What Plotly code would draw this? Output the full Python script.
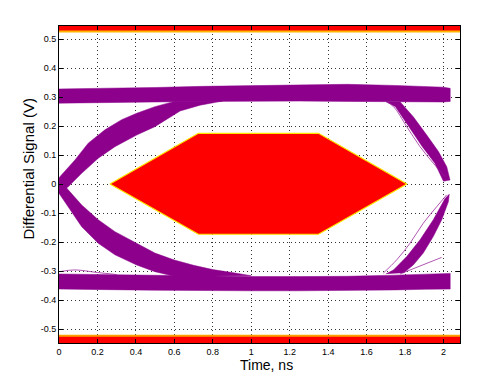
import plotly.graph_objects as go

PURPLE = "rgb(140,0,140)"
PURPLE_THIN = "rgba(150,30,150,0.75)"

# ---------------- data ----------------
x_ticks = [0, 0.2, 0.4, 0.6, 0.8, 1.0, 1.2, 1.4, 1.6, 1.8, 2.0]
x_tick_text = ["0", "0.2", "0.4", "0.6", "0.8", "1", "1.2", "1.4", "1.6", "1.8", "2"]
y_ticks = [0.5, 0.4, 0.3, 0.2, 0.1, 0, -0.1, -0.2, -0.3, -0.4, -0.5]
y_tick_text = ["0.5", "0.4", "0.3", "0.2", "0.1", "0", "-0.1", "-0.2", "-0.3", "-0.4", "-0.5"]

x_range = [0, 2.086]
y_range = [-0.548, 0.545]

# eye mask (hexagon)
mask_t = [0.265, 0.725, 1.35, 1.81, 1.35, 0.725, 0.265]
mask_v = [0.0, 0.175, 0.175, 0.0, -0.173, -0.173, 0.0]

# upper / lower forbidden regions
top_mask_t = [-0.1, 2.2, 2.2, -0.1, -0.1]
top_mask_v = [0.526, 0.526, 0.7, 0.7, 0.526]
bot_mask_t = [-0.1, 2.2, 2.2, -0.1, -0.1]
bot_mask_v = [-0.523, -0.523, -0.7, -0.7, -0.523]

# high level band (top / bottom edges)
high_t = [0.0, 0.25, 0.5, 0.75, 1.0, 1.25, 1.5, 1.75, 1.9, 2.0, 2.035]
high_top = [0.328, 0.330, 0.333, 0.337, 0.340, 0.342, 0.344, 0.340, 0.336, 0.334, 0.330]
high_bot = [0.279, 0.281, 0.283, 0.285, 0.286, 0.286, 0.285, 0.284, 0.283, 0.283, 0.285]

# low level band
low_t = [0.0, 0.25, 0.5, 0.75, 1.0, 1.25, 1.5, 1.75, 1.9, 2.0, 2.035]
low_top = [-0.310, -0.312, -0.315, -0.318, -0.319, -0.319, -0.318, -0.314, -0.310, -0.308, -0.308]
low_bot = [-0.362, -0.364, -0.366, -0.368, -0.368, -0.368, -0.367, -0.365, -0.363, -0.362, -0.362]

# left rising edge (outer edge up, inner edge back down)
rise_l_t = [0.0, 0.083, 0.152, 0.239, 0.326, 0.404, 0.499, 0.60,
            0.85, 0.734, 0.63, 0.499, 0.404, 0.291, 0.204, 0.118, 0.048, 0.0]
rise_l_v = [0.022, 0.083, 0.141, 0.187, 0.222, 0.244, 0.267, 0.285,
            0.286, 0.272, 0.252, 0.198, 0.169, 0.129, 0.089, 0.037, -0.009, -0.032]

# left falling edge
fall_l_t = [0.0, 0.048, 0.118, 0.204, 0.291, 0.404, 0.499, 0.60,
            1.0, 0.9, 0.8, 0.7, 0.6, 0.499, 0.404, 0.291, 0.204, 0.118, 0.048, 0.0]
fall_l_v = [-0.032, -0.078, -0.147, -0.204, -0.244, -0.279, -0.302, -0.318,
            -0.316, -0.305, -0.295, -0.280, -0.262, -0.238, -0.204, -0.164, -0.123, -0.072, -0.020, 0.016]

# right falling edge
fall_r_t = [1.774, 1.843, 1.913, 1.974, 2.017, 2.034,
            2.000, 1.955, 1.890, 1.820, 1.750, 1.700]
fall_r_v = [0.284, 0.232, 0.169, 0.112, 0.060, 0.014,
            0.010, 0.072, 0.129, 0.198, 0.267, 0.285]

# right rising edge
rise_r_t = [1.792, 1.843, 1.895, 1.947, 1.991, 2.026, 2.030,
            2.008, 1.947, 1.878, 1.809, 1.740, 1.700]
rise_r_v = [-0.307, -0.279, -0.238, -0.181, -0.123, -0.060, -0.035,
            -0.050, -0.123, -0.192, -0.250, -0.296, -0.310]

# thin outlier traces
thin_1_t = [1.700, 1.740, 1.809, 1.878, 1.947, 2.008]
thin_1_v = [0.285, 0.267, 0.198, 0.129, 0.072, 0.026]
thin_2_t = [1.687, 1.757, 1.826, 1.895, 1.965, 2.017]
thin_2_v = [-0.307, -0.261, -0.204, -0.135, -0.078, -0.037]
thin_3_t = [1.774, 1.990]
thin_3_v = [-0.310, -0.253]
thin_4_t = [0.005, 0.08, 0.2, 0.3]
thin_4_v = [-0.302, -0.296, -0.305, -0.312]

# ---------------- figure ----------------
fig = go.Figure()


def band(t, top, bot):
    return t + t[::-1], top + bot[::-1]


def poly(x, y, fill, line=None, width=0):
    fig.add_trace(go.Scatter(
        x=x, y=y, mode="lines", fill="toself", fillcolor=fill,
        line=dict(color=line if line else fill, width=width),
        hoverinfo="skip", showlegend=False))


# purple eye traces
hx, hy = band(high_t, high_top, high_bot)
poly(hx, hy, PURPLE, width=0.5)
lx, ly = band(low_t, low_top, low_bot)
poly(lx, ly, PURPLE, width=0.5)
poly(rise_l_t, rise_l_v, PURPLE, width=0.5)
poly(fall_l_t, fall_l_v, PURPLE, width=0.5)
poly(fall_r_t, fall_r_v, PURPLE, width=0.5)
poly(rise_r_t, rise_r_v, PURPLE, width=0.5)

for tt, vv in [(thin_1_t, thin_1_v), (thin_2_t, thin_2_v), (thin_3_t, thin_3_v),
               (thin_4_t, thin_4_v)]:
    fig.add_trace(go.Scatter(x=tt, y=vv, mode="lines",
                             line=dict(color=PURPLE_THIN, width=1, shape="spline"),
                             hoverinfo="skip", showlegend=False))

# masks
poly(mask_t, mask_v, "rgb(255,0,0)", line="rgb(255,230,0)", width=1.2)
poly(top_mask_t, top_mask_v, "rgb(255,0,0)", line="rgb(255,180,0)", width=2)
poly(bot_mask_t, bot_mask_v, "rgb(255,0,0)", line="rgb(255,160,0)", width=2)

axis_common = dict(
    showgrid=True, gridcolor="rgba(0,0,0,0.8)", gridwidth=1, griddash="1px,3px",
    zeroline=False, showline=True, linecolor="black", linewidth=1, mirror="ticks",
    ticks="inside", ticklen=4, tickcolor="black",
    tickfont=dict(family="Liberation Sans, Arial, sans-serif", size=9, color="black"),
)

fig.update_layout(
    width=498, height=374,
    margin=dict(l=59, r=38, t=26, b=31, autoexpand=False),
    paper_bgcolor="white", plot_bgcolor="white",
    showlegend=False,
    xaxis=dict(range=x_range, tickvals=x_ticks, ticktext=x_tick_text, **axis_common),
    yaxis=dict(range=y_range, tickvals=y_ticks, ticktext=y_tick_text, **axis_common),
    annotations=[
        dict(text="Time, ns", xref="paper", yref="paper", x=0.518, y=-0.068,
             xanchor="center", yanchor="middle", showarrow=False,
             font=dict(family="Liberation Sans, Arial, sans-serif", size=14, color="black")),
        dict(text="Differential Signal (V)", xref="paper", yref="paper", x=-0.075, y=0.55,
             xanchor="center", yanchor="middle", textangle=-90, showarrow=False,
             font=dict(family="Liberation Sans, Arial, sans-serif", size=15, color="black")),
    ],
)

fig.write_html("out.html", config={"displayModeBar": False},
               post_script="document.body.style.margin='0';document.body.style.padding='0';")
